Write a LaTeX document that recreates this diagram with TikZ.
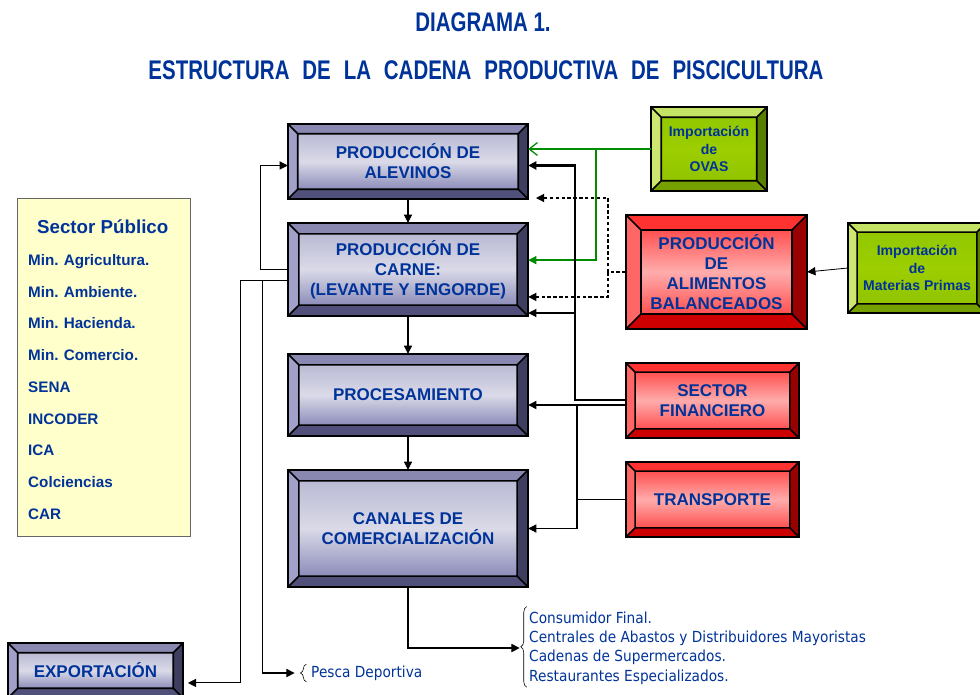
\documentclass[tikz,border=0pt]{standalone}
\usepackage{fontspec}
\setmainfont{Liberation Sans}
\newfontfamily\narrowfont[FakeStretch=0.76]{Liberation Sans}
\newfontfamily\listfont[FakeStretch=0.9]{DejaVu Sans}
\usetikzlibrary{arrows.meta,calc,fit,positioning,decorations.pathreplacing}
\frenchspacing

\definecolor{txtblue}{RGB}{0,51,153}
\definecolor{pubfill}{RGB}{255,255,204}
\definecolor{greenline}{RGB}{0,140,0}
% stage boxes (blue)
\definecolor{bltop}{RGB}{136,136,176}
\definecolor{bllft}{RGB}{160,160,200}
\definecolor{blrgt}{RGB}{62,62,96}
\definecolor{blbot}{RGB}{80,80,122}
\definecolor{bla}{RGB}{186,186,212}
\definecolor{blb}{RGB}{218,218,232}
\definecolor{blc}{RGB}{140,140,186}
% support boxes (red)
\definecolor{rdtop}{RGB}{255,50,50}
\definecolor{rdlft}{RGB}{255,102,102}
\definecolor{rdrgt}{RGB}{153,0,0}
\definecolor{rdbot}{RGB}{204,0,0}
\definecolor{rda}{RGB}{255,80,80}
\definecolor{rdb}{RGB}{255,172,172}
\definecolor{rdc}{RGB}{255,80,80}
% imports (green)
\definecolor{grtop}{RGB}{196,226,100}
\definecolor{grlft}{RGB}{204,230,112}
\definecolor{grrgt}{RGB}{88,126,0}
\definecolor{grbot}{RGB}{118,160,0}
\definecolor{gra}{RGB}{146,200,0}
\definecolor{grb}{RGB}{156,206,0}
\definecolor{grc}{RGB}{146,196,0}

\newcommand{\bevelbox}[7]{%
  \coordinate (#1-nw) at (#2);
  \coordinate (#1-se) at (#3);
  \node[fit=(#1-nw)(#1-se), inner sep=0pt] (#1) {};
  \coordinate (#1-inw) at ([shift={(#5,-#5)}]#1.north west);
  \coordinate (#1-ine) at ([shift={(-#5,-#5)}]#1.north east);
  \coordinate (#1-isw) at ([shift={(#5,#5)}]#1.south west);
  \coordinate (#1-ise) at ([shift={(-#5,#5)}]#1.south east);
  \fill[#4top] (#1.north west) -- (#1.north east) -- (#1-ine) -- (#1-inw) -- cycle;
  \fill[#4bot] (#1.south west) -- (#1.south east) -- (#1-ise) -- (#1-isw) -- cycle;
  \fill[#4lft] (#1.north west) -- (#1-inw) -- (#1-isw) -- (#1.south west) -- cycle;
  \fill[#4rgt] (#1.north east) -- (#1-ine) -- (#1-ise) -- (#1.south east) -- cycle;
  \shade[top color=#4a, bottom color=#4c, middle color=#4b] (#1-inw) rectangle (#1-ise);
  \draw[boxline] (#1-inw) rectangle (#1-ise)
    (#1.north west) -- (#1-inw) (#1.north east) -- (#1-ine)
    (#1.south west) -- (#1-isw) (#1.south east) -- (#1-ise);
  \draw[boxline] (#1.north west) rectangle (#1.south east);
  \node[#6] (#1-txt) at (#1) {#7};
}

\begin{document}
\begin{tikzpicture}[x=0.03cm, y=-0.03cm,
    boxline/.style={line width=1.4pt},
    title/.style={font=\narrowfont\bfseries\fontsize{23}{26}\selectfont, text=txtblue},
    boxtext/.style={align=center, font=\bfseries\fontsize{14.5}{17}\selectfont, text=txtblue},
    bigtext/.style={align=center, font=\bfseries\fontsize{14.5}{17.2}\selectfont, text=txtblue},
    smalltext/.style={align=center, font=\bfseries\fontsize{12}{15}\selectfont, text=txtblue},
    pubbox/.style={draw=black!60, fill=pubfill, inner sep=0pt},
    publist/.style={text width=4.5cm, align=left, inner sep=0pt, minimum height=26.7pt,
      text height=9pt, text depth=0pt, font=\bfseries\fontsize{13}{14}\selectfont, text=txtblue},
    listtext/.style={align=left, inner sep=0pt, font=\listfont\fontsize{13}{16.6}\selectfont, text=txtblue},
    arr/.style={line width=0.9pt, -{Triangle[length=7pt,width=7pt]}},
    bus/.style={line width=2.2pt, -{Triangle[length=7pt,width=7pt]}},
    greenarr/.style={draw=greenline, line width=1.1pt, -{Triangle[length=7pt,width=7pt]}},
    greenopen/.style={draw=greenline, line width=1.1pt, -{Straight Barb[length=7pt,width=11pt]}},
    dasharr/.style={line width=1pt, densely dashed, -{Triangle[length=7pt,width=7pt]}},
    brace/.style={decorate, decoration={brace, amplitude=5pt}, line width=0.5pt}]
  \useasboundingbox (0,0) rectangle (980,694);

  % titles
  \node[title] (tit1) at (483,22) {DIAGRAMA 1.};
  \node[title] (tit2) at (486,70) {ESTRUCTURA\hspace{11pt}DE\hspace{11pt}LA\hspace{11pt}CADENA\hspace{11pt}PRODUCTIVA\hspace{11pt}DE\hspace{11pt}PISCICULTURA};

  % public sector
  \node[pubbox, fit={(17,198) (190,536)}] (pub) {};
  \node[anchor=west, font=\bfseries\fontsize{16}{18}\selectfont, text=txtblue] (pubhead) at (33,227) {Sector Público};
  \node[publist, anchor=west] (pub1) at (28,260) {Min. Agricultura.};
  \node[publist, below=0pt of pub1] (pub2) {Min. Ambiente.};
  \node[publist, below=0pt of pub2] (pub3) {Min. Hacienda.};
  \node[publist, below=0pt of pub3] (pub4) {Min. Comercio.};
  \node[publist, below=0pt of pub4] (pub5) {SENA};
  \node[publist, below=0pt of pub5] (pub6) {INCODER};
  \node[publist, below=0pt of pub6] (pub7) {ICA};
  \node[publist, below=0pt of pub7] (pub8) {Colciencias};
  \node[publist, below=0pt of pub8] (pub9) {CAR};

  % chain
  \bevelbox{alev}{288,124}{528,199}{bl}{8.5pt}{boxtext}{PRODUCCIÓN DE\\ALEVINOS}
  \bevelbox{carne}{288,223}{528,316}{bl}{9.5pt}{boxtext}{PRODUCCIÓN DE\\CARNE:\\(LEVANTE Y ENGORDE)}
  \bevelbox{proc}{288,354}{528,436}{bl}{9.5pt}{boxtext}{PROCESAMIENTO}
  \bevelbox{canal}{288,470}{528,587}{bl}{9.5pt}{boxtext}{CANALES DE\\COMERCIALIZACIÓN}
  \bevelbox{expo}{8,643}{183,698}{bl}{8.5pt}{boxtext}{EXPORTACIÓN}

  % support
  \bevelbox{ovas}{651,107}{767,191}{gr}{9pt}{smalltext}{Importación\\de\\OVAS}
  \bevelbox{alim}{626,215}{807,329}{rd}{13pt}{bigtext}{PRODUCCIÓN\\DE\\ALIMENTOS\\BALANCEADOS}
  \bevelbox{mat}{848,223}{986,313}{gr}{8pt}{smalltext}{Importación\\de\\Materias Primas}
  \bevelbox{fin}{626,363}{799,438}{rd}{8pt}{boxtext}{SECTOR\\FINANCIERO}
  \bevelbox{trans}{626,462}{799,537}{rd}{8pt}{boxtext}{TRANSPORTE}

  % outlets
  \node[listtext, anchor=west] (cons) at (529,648) {Consumidor Final.\\Centrales de Abastos y Distribuidores Mayoristas\\Cadenas de Supermercados.\\Restaurantes Especializados.};
  \draw[brace] ([shift={(-2pt,-2pt)}]cons.south west) -- ([shift={(-2pt,4pt)}]cons.north west);
  \coordinate (constip) at ([xshift=-8pt]cons.west);
  \node[listtext, anchor=west] (pesca) at (311,673) {Pesca Deportiva};
  \draw[brace] ([shift={(-4pt,-1pt)}]pesca.south west) -- ([shift={(-4pt,1pt)}]pesca.north west);
  \coordinate (pescatip) at ([xshift=-14pt]pesca.west);

  % chain links
  \draw[arr] (alev) -- (carne);
  \draw[arr] (carne) -- (proc);
  \draw[arr] (proc) -- (canal);
  \draw[arr] (canal) |- (constip);
  \draw[arr] (carne.west) -- ++(-27,0) |- ([yshift=-3.4pt]alev.west);
  \draw[arr] ([yshift=-9pt]carne.west) -- ++(-47,0) |- ([shift={(4pt,-10.6pt)}]expo.east);
  \draw[arr] ([yshift=-9pt]carne.west) -- ++(-25,0) |- (pescatip);

  % imports
  \coordinate (gsplit) at (596,149);
  \draw[greenopen] (ovas.west |- gsplit) -- (alev.east |- gsplit);
  \draw[greenarr] (gsplit) |- ([yshift=8pt]carne.east);
  \draw[arr, line width=0.7pt] (mat.west) -- (alim.east);

  % feed
  \coordinate (dsplit) at (608,272);
  \coordinate (dashend) at (536,198);
  \draw[dasharr] (alim.west |- dsplit) -- (dsplit) |- (dashend);
  \draw[dasharr] (dsplit) |- ([yshift=-23.4pt]carne.east);

  % finance and transport
  \coordinate (bus) at (575,400);
  \coordinate (busb) at (577,405);
  \draw[bus] (fin.west |- bus) -- (bus) |- ([yshift=-3.4pt]alev.east);
  \draw[arr] (575,313) -- (carne.east |- 0,313);
  \draw[arr, line width=1.3pt] (fin.west |- busb) -- (proc.east |- busb);
  \draw[arr] (busb) |- (canal.east);
  \draw[line width=0.9pt] (trans.west) -- (trans.west -| busb);
\end{tikzpicture}
\end{document}
